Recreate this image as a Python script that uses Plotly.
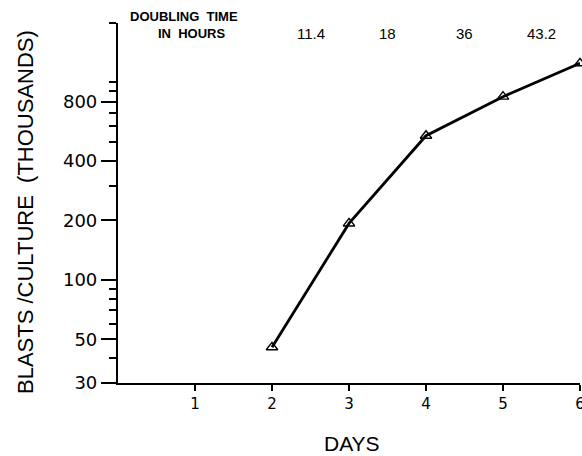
import plotly.graph_objects as go
import math

days = [2, 3, 4, 5, 6]
blasts = [45.5, 193, 537, 847, 1250]

tick_days = [1, 2, 3, 4, 5, 6]
y_major = [30, 50, 100, 200, 400, 800]
y_minor = [40, 60, 70, 80, 90, 300, 500, 600, 700, 900, 1000, 2000]

doubling_x = [2.5, 3.5, 4.5, 5.5]
doubling_labels = ["11.4", "18", "36", "43.2"]

fig = go.Figure()
fig.add_trace(go.Scatter(
    x=days, y=blasts, mode="lines+markers",
    line=dict(color="black", width=2.8),
    marker=dict(symbol="triangle-up-open", size=10, color="black",
                line=dict(width=1.4, color="black")),
    showlegend=False, cliponaxis=False,
))

fig.update_layout(
    width=582, height=456,
    margin=dict(l=118, r=2, t=23, b=73, autoexpand=False),
    paper_bgcolor="white", plot_bgcolor="white",
    xaxis=dict(
        range=[0, 6], tickvals=tick_days, ticktext=[str(d) for d in tick_days],
        ticks="outside", ticklen=6, tickwidth=2, tickcolor="black",
        showline=True, linecolor="black", linewidth=2.2,
        showgrid=False, zeroline=False, ticklabeloverflow="allow",
        automargin=False,
        tickfont=dict(family="DejaVu Sans", size=15, color="black"),
    ),
    yaxis=dict(
        type="log", range=[math.log10(30), math.log10(2000)],
        tickvals=y_major, ticktext=[str(v) for v in y_major],
        ticks="outside", ticklen=15, tickwidth=2, tickcolor="black",
        showline=True, linecolor="black", linewidth=2.2,
        showgrid=False, zeroline=False, automargin=False,
        tickfont=dict(family="DejaVu Sans", size=18, color="black"),
        minor=dict(tickvals=y_minor, ticks="outside", ticklen=7,
                   tickwidth=1.8, tickcolor="black", showgrid=False),
    ),
)

for xv, lab in zip(doubling_x, doubling_labels):
    fig.add_annotation(x=xv, y=0.972, xref="x", yref="paper", text=lab,
                       showarrow=False, xanchor="center", yanchor="middle",
                       font=dict(family="Liberation Sans", size=15, color="black"))

fig.add_annotation(x=0.1429, y=1.017, xref="paper", yref="paper",
                   text="<b>DOUBLING  TIME</b>", showarrow=False,
                   xanchor="center", yanchor="middle",
                   font=dict(family="Liberation Sans", size=13, color="black"))
fig.add_annotation(x=0.160, y=0.972, xref="paper", yref="paper",
                   text="<b>IN  HOURS</b>", showarrow=False,
                   xanchor="center", yanchor="middle",
                   font=dict(family="Liberation Sans", size=13, color="black"))

fig.add_annotation(x=-0.2013, y=0.475, xref="paper", yref="paper",
                   text="BLASTS /CULTURE  (THOUSANDS)", textangle=-90,
                   showarrow=False, xanchor="center", yanchor="middle",
                   font=dict(family="Liberation Sans", size=22, color="black"))
fig.add_annotation(x=0.506, y=-0.1667, xref="paper", yref="paper",
                   text="DAYS", showarrow=False, xanchor="center", yanchor="middle",
                   font=dict(family="Liberation Sans", size=21, color="black"))

fig.write_html(
    "out.html",
    config={"displayModeBar": False},
    post_script="document.body.style.margin='0';document.body.style.overflow='hidden';",
)
